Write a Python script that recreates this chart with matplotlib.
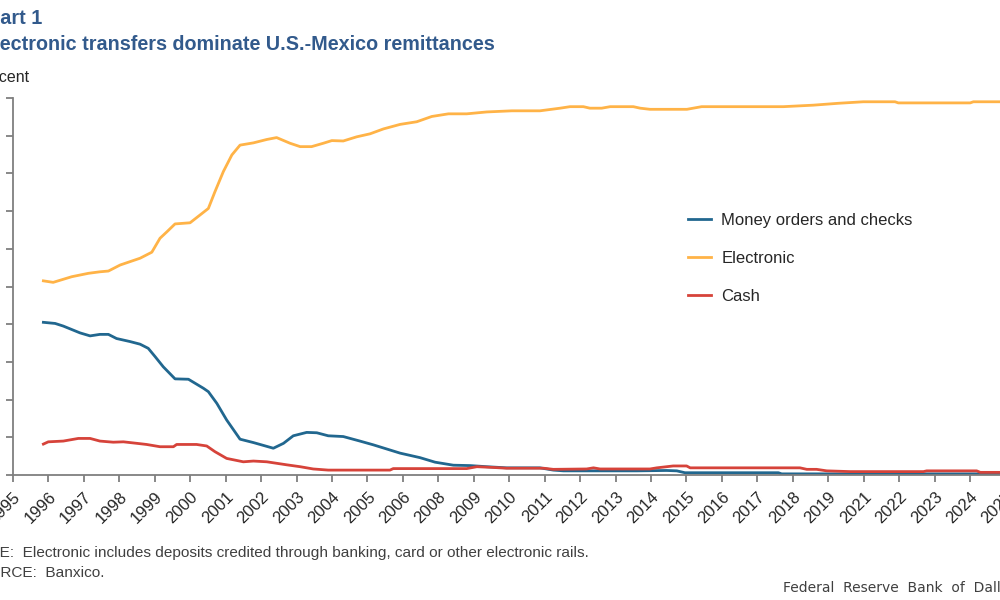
import matplotlib
matplotlib.use('Agg')
import matplotlib.pyplot as plt
import numpy as np

plt.rcParams['font.family'] = ['Liberation Sans', 'DejaVu Sans']

# values (percent share of remittances, decimal years)
elec_dates = [1995.93, 1996.23, 1996.80, 1997.31, 1997.66, 1997.92, 1998.28, 1998.89, 1999.25, 1999.50,
              1999.71, 1999.96, 2000.42, 2000.73, 2000.98, 2001.18, 2001.44, 2001.70, 2001.95, 2002.36,
              2002.77, 2003.07, 2003.48, 2003.79, 2004.14, 2004.50, 2004.76, 2005.11, 2005.52, 2005.93,
              2006.34, 2006.85, 2007.36, 2007.82, 2008.33, 2008.89, 2009.50, 2010.27, 2011.13, 2011.75,
              2012.05, 2012.46, 2012.66, 2013.02, 2013.28, 2013.99, 2014.20, 2014.50, 2015.63, 2016.08,
              2018.58, 2019.50, 2020.27, 2021.03, 2022.00, 2022.10, 2024.30, 2024.40, 2025.45]
elec_vals = [51.5, 51.1, 52.6, 53.5, 53.9, 54.1, 55.7, 57.5, 59.1, 62.8,
             64.5, 66.6, 66.9, 69.0, 70.7, 75.1, 80.5, 84.9, 87.5, 88.1,
             89.0, 89.5, 88.0, 87.1, 87.1, 88.0, 88.7, 88.6, 89.7, 90.5,
             91.8, 93.0, 93.7, 95.1, 95.8, 95.8, 96.3, 96.6, 96.6, 97.3,
             97.7, 97.7, 97.3, 97.3, 97.7, 97.7, 97.3, 97.0, 97.0, 97.7,
             97.7, 98.1, 98.6, 99.0, 99.0, 98.7, 98.7, 99.0, 99.0]

money_dates = [1995.93, 1996.29, 1996.54, 1997.05, 1997.36, 1997.66, 1997.92, 1998.17, 1998.58, 1998.89,
               1999.14, 1999.35, 1999.60, 1999.96, 2000.37, 2000.83, 2000.98, 2001.24, 2001.54, 2001.95,
               2002.36, 2002.97, 2003.28, 2003.58, 2003.99, 2004.30, 2004.65, 2005.11, 2005.62, 2006.03,
               2006.44, 2006.85, 2007.46, 2007.92, 2008.48, 2008.99, 2009.50, 2010.11, 2011.13, 2011.54,
               2011.85, 2014.09, 2015.01, 2015.32, 2015.57, 2018.43, 2018.53, 2025.45]
money_vals = [40.5, 40.2, 39.5, 37.7, 36.9, 37.3, 37.3, 36.2, 35.4, 34.7,
              33.6, 31.4, 28.7, 25.5, 25.4, 23.0, 22.1, 19.0, 14.6, 9.5,
              8.6, 7.1, 8.4, 10.4, 11.3, 11.2, 10.4, 10.2, 9.0, 8.0,
              6.9, 5.8, 4.6, 3.4, 2.6, 2.5, 2.2, 1.9, 1.9, 1.3,
              1.1, 1.1, 1.2, 1.1, 0.6, 0.6, 0.3, 0.3]

cash_dates = [1995.93, 1996.08, 1996.54, 1997.00, 1997.36, 1997.66, 1998.07, 1998.38, 1998.79, 1999.09,
              1999.50, 1999.91, 2000.01, 2000.62, 2000.93, 2001.18, 2001.54, 2002.05, 2002.36, 2002.77,
              2003.38, 2003.79, 2004.19, 2004.65, 2006.54, 2006.64, 2008.89, 2009.20, 2009.70, 2010.11,
              2011.24, 2011.54, 2012.56, 2012.77, 2012.97, 2014.50, 2014.71, 2015.21, 2015.62, 2015.73,
              2019.09, 2019.30, 2019.60, 2019.91, 2020.63, 2022.87, 2022.97, 2024.50, 2024.61, 2025.45]
cash_vals = [8.2, 8.8, 9.0, 9.7, 9.7, 9.0, 8.7, 8.8, 8.4, 8.1,
             7.5, 7.5, 8.1, 8.1, 7.7, 6.2, 4.4, 3.5, 3.7, 3.5,
             2.7, 2.2, 1.6, 1.3, 1.3, 1.7, 1.7, 2.2, 2.0, 1.8,
             1.8, 1.5, 1.6, 1.9, 1.6, 1.6, 1.9, 2.4, 2.4, 1.9,
             1.9, 1.5, 1.5, 1.1, 0.9, 0.9, 1.1, 1.1, 0.7, 0.7]

series_names = ['Money orders and checks', 'Electronic', 'Cash']
tick_labels = ['1995', '1996', '1997', '1998', '1999', '2000', '2001', '2002', '2003', '2004',
               '2005', '2006', '2008', '2009', '2010', '2011', '2012', '2013', '2014', '2015',
               '2016', '2017', '2018', '2019', '2021', '2022', '2023', '2024', '2025']

W, H = 1000, 600
fig = plt.figure(figsize=(10, 6), dpi=100)
ax = fig.add_axes([13 / W, 1 - 475 / H, 997 / W, 377 / H])

ax.plot(money_dates, money_vals, color='#21678F', lw=2.0, label=series_names[0])
ax.plot(elec_dates, elec_vals, color='#FFB347', lw=2.0, label=series_names[1])
ax.plot(cash_dates, cash_vals, color='#D6433A', lw=2.0, label=series_names[2])

# axis ticks land on ~1.085 year steps, so some years get skipped
ax.set_xlim(1995.0, 2025.52)
ax.set_ylim(0, 100)
ax.set_yticks(np.arange(0, 101, 10))
ax.set_xticks(1995.0 + 1.085 * np.arange(len(tick_labels)))
ax.set_xticklabels(tick_labels, rotation=45, ha='right', rotation_mode='anchor')

for s in ['top', 'right']:
    ax.spines[s].set_visible(False)
for s in ['left', 'bottom']:
    ax.spines[s].set_color('#7F7F7F')
    ax.spines[s].set_linewidth(1.3)
ax.tick_params(direction='out', length=5, width=1.3, color='#7F7F7F',
               labelsize=12, labelcolor='#262626')
ax.tick_params(axis='x', pad=5)
ax.tick_params(axis='y', pad=9)  # y labels sit outside the cropped view

leg = ax.legend(loc='upper left', bbox_to_anchor=(688 / W, 1 - 213 / H), bbox_transform=fig.transFigure,
                frameon=False, fontsize=12, handlelength=1.4, handletextpad=0.6,
                labelspacing=1.37, borderpad=0, borderaxespad=0)
for t in leg.get_texts():
    t.set_color('#262626')

# text of the page, partly cut off at the left and right edges like the reference
renderer = fig.canvas.get_renderer()


def cut_text(x_px, y_px, hidden, shown, **kw):
    tmp = fig.text(0, 0, hidden, **kw)
    w = tmp.get_window_extent(renderer).width
    tmp.remove()
    fig.text((x_px - w) / W, 1 - y_px / H, hidden + shown, va='baseline', **kw)


blue = '#325A8C'
cut_text(0, 24, 'Ch', 'art 1', fontsize=14.2, fontweight='bold', color=blue)
cut_text(0, 50, 'El', 'ectronic transfers dominate U.S.-Mexico remittances',
         fontsize=14.2, fontweight='bold', color=blue)
cut_text(0, 82, 'Per', 'cent', fontsize=11.5, color='#262626')
cut_text(0, 557, 'NOT', 'E:  Electronic includes deposits credited through banking, card or other electronic rails.',
         fontsize=11.1, color='#404040')
cut_text(0, 577, 'SOU', 'RCE:  Banxico.', fontsize=11.1, color='#404040')
fig.text(783 / W, 1 - 592 / H, 'Federal  Reserve  Bank  of  Dallas', va='baseline',
         fontsize=10, color='#404040', family=['DejaVu Sans'])

fig.savefig('out.png', dpi=100)
